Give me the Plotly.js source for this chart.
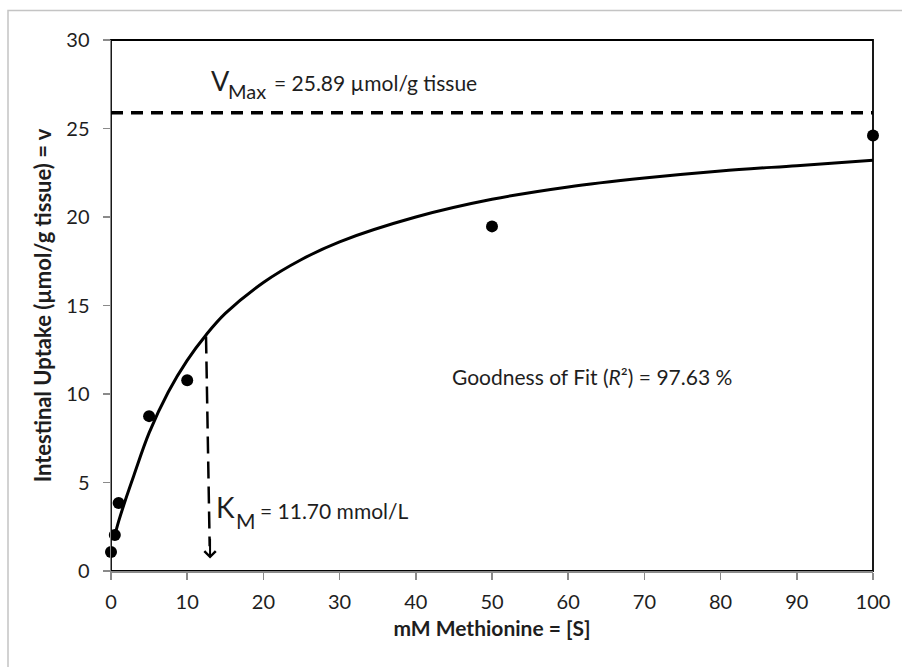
<!DOCTYPE html>
<html>
<head>
<meta charset="utf-8">
<script src="https://cdn.plot.ly/plotly-3.0.1.min.js"></script>
<style>
html,body{margin:0;padding:0;background:#fff;}
#chart{width:902px;height:667px;}
</style>
</head>
<body>
<div id="chart"></div>
<script>
// Observed data points (substrate mM, uptake µmol/g tissue)
var substrate = [0, 0.5, 1, 5, 10, 50, 100];
var uptake = [1.07, 2.03, 3.84, 8.75, 10.78, 19.47, 24.6];

// Fitted curve, values
var fitS = [0.5, 1, 2, 3, 5, 7.5, 10, 12.5, 15, 20, 25, 30, 40, 50, 60, 70, 80, 90, 100];
var fitV = [2.0, 2.8, 4.15, 5.4, 7.8, 10.1, 11.9, 13.35, 14.55, 16.3, 17.6, 18.6, 20.0, 21.0, 21.7, 22.2, 22.6, 22.9, 23.2];

// Reference values
var vmax = 25.89;
var vmaxLineX = [0, 100];
var kmLineX = [12.47, 12.95];
var kmLineY = [13.25, 1.4];
var kmArrowTip = [13.0, 0.7];

var xTicks = [0, 10, 20, 30, 40, 50, 60, 70, 80, 90, 100];
var yTicks = [0, 5, 10, 15, 20, 25, 30];

// layout geometry helpers (pixel -> paper)
var L = 111, R = 873, T = 39.5, B = 571;
function px(x){ return (x - L) / (R - L); }
function py(y){ return (B - y) / (B - T); }

var FONT = 'Lato, "Open Sans", sans-serif';
var TXT = '#1e1e1e';

var traces = [
  {x: fitS, y: fitV, mode: 'lines', line: {color: '#000', width: 3, shape: 'spline', smoothing: 1}, hoverinfo: 'skip'},
  {x: vmaxLineX, y: [vmax, vmax], mode: 'lines', line: {color: '#000', width: 3.5, dash: '12px,8px'}, hoverinfo: 'skip'},
  {x: kmLineX, y: kmLineY, mode: 'lines', line: {color: '#000', width: 2.5, dash: '17px,8px'}, hoverinfo: 'skip'},
  {x: substrate, y: uptake, mode: 'markers', marker: {color: '#000', size: 12}, cliponaxis: false}
];

var layout = {
  width: 902, height: 667,
  paper_bgcolor: '#fff', plot_bgcolor: '#fff',
  showlegend: false,
  margin: {l: L, r: 902 - R, t: T, b: 667 - B, pad: 0},
  font: {family: FONT, color: TXT},
  xaxis: {
    range: [0, 100], tickvals: xTicks, ticktext: xTicks.map(String),
    showgrid: false, zeroline: false, showline: true, linecolor: '#8a8a8a', linewidth: 1.5,
    ticks: 'outside', ticklen: 7, tickwidth: 1.5, tickcolor: '#8a8a8a',
    tickfont: {size: 20, family: FONT, color: TXT},
    ticklabelstandoff: 5,
    title: {text: '<b>mM Methionine = [S]</b>', font: {size: 21, family: FONT, color: TXT}, standoff: 10},
    automargin: false
  },
  yaxis: {
    range: [0, 30], tickvals: yTicks, ticktext: yTicks.map(String),
    showgrid: false, zeroline: false, showline: true, linecolor: '#8a8a8a', linewidth: 1.5,
    ticks: 'outside', ticklen: 7, tickwidth: 1.5, tickcolor: '#8a8a8a',
    tickfont: {size: 20, family: FONT, color: TXT},
    ticklabelstandoff: 9,
    title: {text: '<b>Intestinal Uptake (µmol/g tissue) = v</b>', font: {size: 22, family: FONT, color: TXT}, standoff: 8},
    automargin: false
  },
  shapes: [
    {type: 'rect', xref: 'paper', yref: 'paper', x0: px(8), x1: 1.3, y0: -0.3, y1: py(10),
     line: {color: '#c4c4c4', width: 1.5}, layer: 'below'},
    {type: 'rect', xref: 'paper', yref: 'paper', x0: 0, x1: 1, y0: 0, y1: 1,
     line: {color: '#000', width: 1.8}, layer: 'below'}
  ],
  annotations: [
    {x: kmArrowTip[0], y: kmArrowTip[1], ax: kmArrowTip[0], ay: kmArrowTip[1] + 1.2, axref: 'x', ayref: 'y', xref: 'x', yref: 'y',
     text: '', showarrow: true, arrowhead: 4, arrowsize: 1.1, arrowwidth: 2, arrowcolor: '#000'},
    {xref: 'paper', yref: 'paper', x: px(209), y: py(80), xanchor: 'left', yanchor: 'middle', showarrow: false,
     text: 'V', font: {size: 27, family: FONT, color: TXT}},
    {xref: 'paper', yref: 'paper', x: px(226), y: py(91), xanchor: 'left', yanchor: 'middle', showarrow: false,
     text: 'Max', font: {size: 20, family: FONT, color: TXT}},
    {xref: 'paper', yref: 'paper', x: px(272), y: py(82), xanchor: 'left', yanchor: 'middle', showarrow: false,
     text: '= 25.89 µmol/g tissue', font: {size: 21, family: FONT, color: TXT}},
    {xref: 'paper', yref: 'paper', x: px(214), y: py(507), xanchor: 'left', yanchor: 'middle', showarrow: false,
     text: 'K', font: {size: 28, family: FONT, color: TXT}},
    {xref: 'paper', yref: 'paper', x: px(234), y: py(520), xanchor: 'left', yanchor: 'middle', showarrow: false,
     text: 'M', font: {size: 21, family: FONT, color: TXT}},
    {xref: 'paper', yref: 'paper', x: px(258), y: py(510), xanchor: 'left', yanchor: 'middle', showarrow: false,
     text: '= 11.70 mmol/L', font: {size: 21, family: FONT, color: TXT}},
    {xref: 'paper', yref: 'paper', x: px(450), y: py(376), xanchor: 'left', yanchor: 'middle', showarrow: false,
     text: 'Goodness of Fit (<i>R</i>²) = 97.63 %', font: {size: 21, family: FONT, color: TXT}}
  ]
};

Plotly.newPlot('chart', traces, layout, {staticPlot: true, displayModeBar: false});
</script>
</body>
</html>
